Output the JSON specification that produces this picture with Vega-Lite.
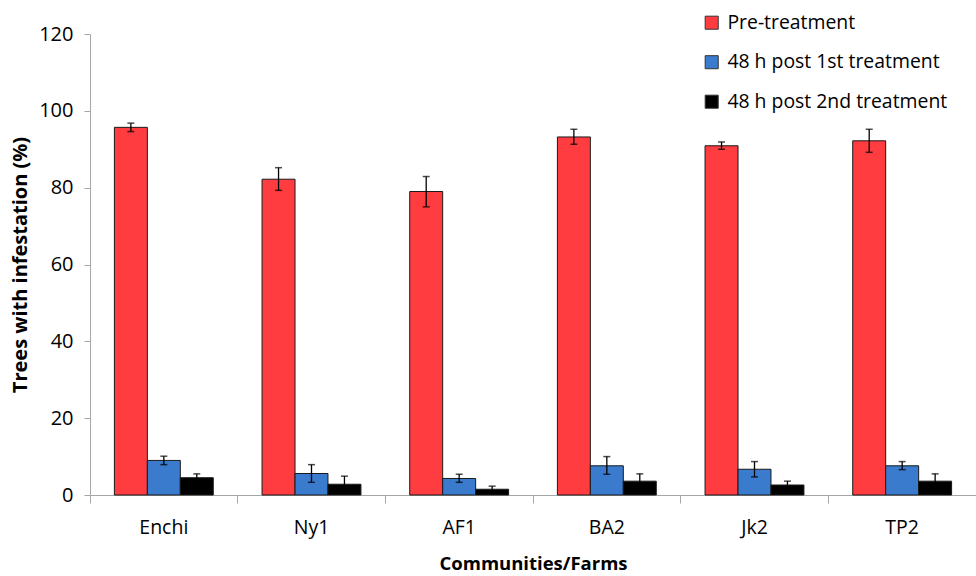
{
  "$schema": "https://vega.github.io/schema/vega-lite/v6.json",
  "autosize": {"type": "none"},
  "width": 886,
  "height": 461,
  "padding": {"left": 90, "top": 34, "right": 0, "bottom": 81},
  "background": "white",
  "config": {
    "view": {"stroke": null},
    "font": "Open Sans",
    "axis": {"labelFont": "Open Sans", "titleFont": "Open Sans", "labelColor": "#000", "titleColor": "#000", "domainColor": "#a6a6a6", "tickColor": "#a6a6a6", "grid": false}
  },
  "data": {
    "values": [
      {"farm": "Enchi", "treatment": "Pre-treatment", "value": 95.7, "lo": 94.6, "hi": 96.8},
      {"farm": "Enchi", "treatment": "48 h post 1st treatment", "value": 9.0, "lo": 7.9, "hi": 10.1},
      {"farm": "Enchi", "treatment": "48 h post 2nd treatment", "value": 4.5, "lo": 3.5, "hi": 5.5},
      {"farm": "Ny1", "treatment": "Pre-treatment", "value": 82.2, "lo": 79.3, "hi": 85.2},
      {"farm": "Ny1", "treatment": "48 h post 1st treatment", "value": 5.6, "lo": 3.3, "hi": 7.9},
      {"farm": "Ny1", "treatment": "48 h post 2nd treatment", "value": 2.8, "lo": 0.7, "hi": 4.9},
      {"farm": "AF1", "treatment": "Pre-treatment", "value": 79.0, "lo": 75.0, "hi": 82.9},
      {"farm": "AF1", "treatment": "48 h post 1st treatment", "value": 4.3, "lo": 3.3, "hi": 5.4},
      {"farm": "AF1", "treatment": "48 h post 2nd treatment", "value": 1.5, "lo": 0.7, "hi": 2.3},
      {"farm": "BA2", "treatment": "Pre-treatment", "value": 93.2, "lo": 91.3, "hi": 95.2},
      {"farm": "BA2", "treatment": "48 h post 1st treatment", "value": 7.6, "lo": 5.4, "hi": 10.0},
      {"farm": "BA2", "treatment": "48 h post 2nd treatment", "value": 3.6, "lo": 1.7, "hi": 5.5},
      {"farm": "Jk2", "treatment": "Pre-treatment", "value": 90.9, "lo": 90.0, "hi": 91.9},
      {"farm": "Jk2", "treatment": "48 h post 1st treatment", "value": 6.7, "lo": 4.7, "hi": 8.7},
      {"farm": "Jk2", "treatment": "48 h post 2nd treatment", "value": 2.6, "lo": 1.6, "hi": 3.6},
      {"farm": "TP2", "treatment": "Pre-treatment", "value": 92.2, "lo": 89.2, "hi": 95.2},
      {"farm": "TP2", "treatment": "48 h post 1st treatment", "value": 7.6, "lo": 6.6, "hi": 8.7},
      {"farm": "TP2", "treatment": "48 h post 2nd treatment", "value": 3.6, "lo": 1.7, "hi": 5.5}
    ]
  },
  "encoding": {
    "x": {
      "field": "farm", "type": "nominal", "sort": null,
      "scale": {"paddingInner": 0, "paddingOuter": 0},
      "axis": {"title": "Communities/Farms", "labelAngle": 0, "bandPosition": 0, "labelFontSize": 19.5, "labelPadding": 15, "titleFontSize": 18.5, "titleFontWeight": "bold", "titlePadding": 18, "tickSize": 8, "labelAlign": "center"}
    },
    "xOffset": {
      "field": "treatment", "type": "nominal",
      "sort": ["Pre-treatment", "48 h post 1st treatment", "48 h post 2nd treatment"],
      "scale": {"paddingInner": 0, "paddingOuter": 0.74}
    }
  },
  "layer": [
    {
      "mark": {"type": "bar", "stroke": "#1a1a1a", "strokeWidth": 1},
      "encoding": {
        "y": {
          "field": "value", "type": "quantitative",
          "scale": {"domain": [0, 120], "nice": false},
          "axis": {"title": "Trees with infestation (%)", "values": [0, 20, 40, 60, 80, 100, 120], "labelFontSize": 20, "labelPadding": 11, "titleFontSize": 20, "titleFontWeight": "bold", "titlePadding": 8, "tickSize": 6}
        },
        "color": {
          "field": "treatment", "type": "nominal",
          "sort": ["Pre-treatment", "48 h post 1st treatment", "48 h post 2nd treatment"],
          "scale": {"domain": ["Pre-treatment", "48 h post 1st treatment", "48 h post 2nd treatment"], "range": ["#ff3d40", "#3a7bcd", "#000000"]},
          "legend": {
            "title": null, "orient": "none", "legendX": 612, "legendY": -21,
            "symbolType": "square", "symbolSize": 170, "symbolStrokeColor": "#333", "symbolStrokeWidth": 1,
            "labelFontSize": 19.4, "labelFont": "Open Sans", "labelColor": "#000", "rowPadding": 18.5, "labelOffset": 6, "labelLimit": 400
          }
        }
      }
    },
    {
      "mark": {"type": "rule", "color": "#000", "strokeWidth": 1.3},
      "encoding": {
        "y": {"field": "lo", "type": "quantitative"},
        "y2": {"field": "hi"}
      }
    },
    {
      "mark": {"type": "tick", "color": "#000", "size": 7, "thickness": 1.5},
      "encoding": {"y": {"field": "lo", "type": "quantitative"}}
    },
    {
      "mark": {"type": "tick", "color": "#000", "size": 7, "thickness": 1.5},
      "encoding": {"y": {"field": "hi", "type": "quantitative"}}
    }
  ]
}
